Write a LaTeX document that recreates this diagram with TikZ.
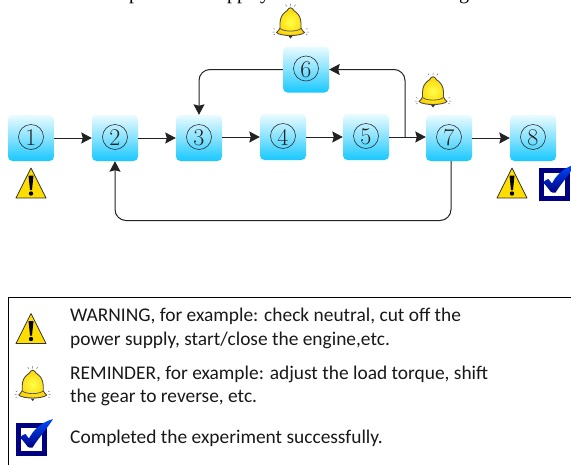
\documentclass[tikz,border=0pt]{standalone}
\usepackage{fontspec}
\newfontfamily\legendfont{Carlito}
\newfontfamily\topfont{Liberation Serif}
\usetikzlibrary{arrows.meta,calc}
\definecolor{linecol}{HTML}{222222}
\definecolor{warnyellow}{HTML}{FFDD00}
\definecolor{navybox}{HTML}{000080}
\definecolor{boxtop}{HTML}{EAFBFF}
\definecolor{boxmid}{HTML}{86E2FF}
\definecolor{boxbot}{HTML}{18C8FF}
\tikzset{
  x=1pt,y=-1pt,
  stepbox/.style={minimum size=46pt,inner sep=0pt,rounded corners=4.5pt,
    top color=boxtop,bottom color=boxbot,middle color=boxmid,
    font=\fontsize{24}{24}\selectfont,text=black!85,
    path picture={\draw[black!80,line width=.6pt] ($(path picture bounding box.center)+(0,-1)$) circle[radius=12.5pt];}},
  conn/.style={draw=linecol,line width=1pt,-{Stealth[length=10.5pt,width=11pt,inset=1.5pt]}},
  legendtext/.style={anchor=base west,inner sep=0pt,font=\legendfont\fontsize{19.4}{20}\selectfont,text=black!90},
  toptext/.style={anchor=base,inner sep=0pt,font=\topfont\fontsize{20}{20}\selectfont},
  warnicon/.pic={
    \path[fill=warnyellow,draw=black!80,line width=.8pt,line join=round] (0,0)--(15,30)--(-15,30)--cycle;
    \path[fill=black] (-2.5,7.5)--(2.5,7.5)--(1,22)--(-1,22)--cycle;
    \path[fill=black] (0,25.5) circle[radius=2.2pt];
  },
  bellicon/.pic={
    \path[draw=black!70,line width=.9pt,inner color=yellow!70!white,outer color=warnyellow!90!orange,line join=round]
      (-1.8,0.5) .. controls (-2.2,3.5) and (-10,4) .. (-10.5,15)
      -- (-10.5,20) .. controls (-11,22) and (-13,23.5) .. (-14,24.5)
      .. controls (-10,28.5) and (10,28.5) .. (14,24.5)
      .. controls (13,23.5) and (11,22) .. (10.5,20)
      -- (10.5,15) .. controls (10,4) and (2.2,3.5) .. (1.8,0.5)
      .. controls (1,-.5) and (-1,-.5) .. (-1.8,0.5) -- cycle;
    \path[draw=black!70,line width=.7pt] (-10.5,20.5) .. controls (-6,24) and (6,24) .. (10.5,20.5);
    \path[fill=black!80] (-2,28) -- (2,28) -- (0,30.5) -- cycle;
    \path[draw=black!55,line width=.5pt]
      (0,-4.5)--(0,-2) (-5,-3.5)--(-3.8,-1.6) (5,-3.5)--(3.8,-1.6)
      (-18,24)--(-16,24) (16,24)--(18,24) (-17,20.5)--(-15.5,21.2) (17,20.5)--(15.5,21.2)
      (-17,27)--(-15.5,26.4) (17,27)--(15.5,26.4);
  },
  checkicon/.pic={
    \path[draw=navybox,line width=5pt,fill=white] (2.5,2.5) rectangle (28.5,30.5);
    \path[top color=blue!70!cyan,bottom color=navybox,draw=none]
      (4,14.5) .. controls (6,12.5) and (8,11) .. (9.5,11)
      .. controls (10.5,12.5) and (12,14) .. (13,15.5)
      .. controls (17,7) and (26,-1) .. (37,-4)
      .. controls (33,3) and (24,13) .. (16.5,24.5)
      .. controls (14,25) and (12.5,24.5) .. (11.5,23.5)
      .. controls (9,20) and (7,17.5) .. (4,14.5) -- cycle;
  }
}
\begin{document}
\begin{tikzpicture}
\useasboundingbox (0,0) rectangle (571,464);
\clip (0,0) rectangle (571,464);
\fill[white] (0,0) rectangle (571,464);

% clipped line of text at the top edge
\node[toptext] (t1) at (134,-1) {p};
\node[toptext] (t2) at (237,-1) {pp};
\node[toptext] (t3) at (265,-1) {y};
\node[toptext] (t4) at (464,-1) {g};

% steps
\node[stepbox] (s1) at (31,138) {1};
\node[stepbox] (s2) at (115,138) {2};
\node[stepbox] (s3) at (199,138) {3};
\node[stepbox] (s4) at (283,137) {4};
\node[stepbox] (s5) at (366,137) {5};
\node[stepbox] (s6) at (306,69.5) {6};
\node[stepbox] (s7) at (449,138) {7};
\node[stepbox] (s8) at (533,138) {8};

\coordinate (branch) at (405,137);
\coordinate (s7out) at ($(s7.south)+(2,0)$);

\draw[conn] (s1) -- (s2);
\draw[conn] (s2) -- (s3);
\draw[conn] (s3.east |- s4.west) -- (s4.west);
\draw[conn] (s4) -- (s5);
\draw[conn] (s5.east) -- (s5.east -| s7.west);
\draw[conn] (s7) -- (s8);
\draw[conn,rounded corners=11pt] (branch) |- (s6.east);
\draw[conn,rounded corners=11pt] (s6.west) -| (s3.north);
\draw[conn,rounded corners=11pt] (s7out) |- (115,220.5) -- (s2.south);

% icons in the diagram
\pic at (31,168) {warnicon};
\pic at (512,168) {warnicon};
\pic at (290.5,8) {bellicon};
\pic at (433,77) {bellicon};
\pic at (539,168) {checkicon};

% legend
\draw[black,line width=1pt] (8,470) -- (8,297.5) -- (580,297.5);
\pic at (31,313.5) {warnicon};
\pic at (32.7,370.5) {bellicon};
\pic at (16,423) {checkicon};
\node[legendtext] (l1) at (70,321.7) {WARNING, for example: check neutral, cut off the};
\node[legendtext] (l2) at (70,345) {power supply, start/close the engine,etc.};
\node[legendtext] (l3) at (70,379) {REMINDER, for example: adjust the load torque, shift};
\node[legendtext] (l4) at (70,402.7) {the gear to reverse, etc.};
\node[legendtext] (l5) at (70,443.7) {Completed the experiment successfully.};
\end{tikzpicture}
\end{document}
